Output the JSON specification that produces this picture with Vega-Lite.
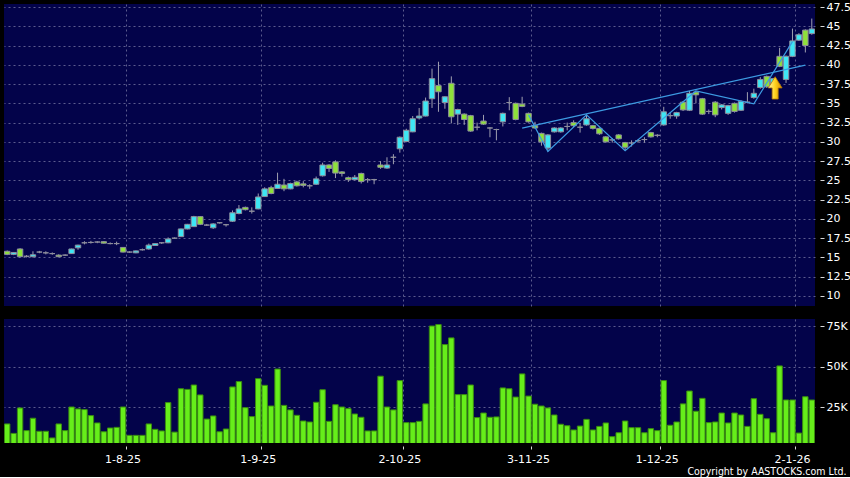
{
  "$schema": "https://vega.github.io/schema/vega-lite/v6.json",
  "background": "#000000",
  "padding": {"left": 4, "top": 1, "right": 0, "bottom": 0},
  "config": {
    "view": {"fill": "#03034a", "stroke": null},
    "concat": {"spacing": 13},
    "axis": {
      "labelFont": "DejaVu Sans",
      "labelFontSize": 11,
      "labelColor": "#ffffff",
      "tickColor": "#d8d8d8",
      "domain": false,
      "gridColor": "#5c5c8e",
      "gridDash": [2, 3],
      "gridWidth": 1,
      "labelOverlap": false
    }
  },
  "datasets": {
    "k": [
      {"d": "2025-07-08", "o": 15.8, "h": 15.9, "l": 15.3, "c": 15.4, "v": 14900},
      {"d": "2025-07-09", "o": 15.4, "h": 15.7, "l": 15.3, "c": 15.65, "v": 9100},
      {"d": "2025-07-10", "o": 16.1, "h": 16.2, "l": 15.0, "c": 15.1, "v": 24700},
      {"d": "2025-07-11", "o": 15.15, "h": 15.3, "l": 15.0, "c": 15.15, "v": 10800},
      {"d": "2025-07-14", "o": 15.1, "h": 15.8, "l": 15.0, "c": 15.35, "v": 18400},
      {"d": "2025-07-15", "o": 15.7, "h": 15.85, "l": 15.55, "c": 15.7, "v": 10400},
      {"d": "2025-07-16", "o": 15.6, "h": 15.8, "l": 15.4, "c": 15.6, "v": 10400},
      {"d": "2025-07-17", "o": 15.5, "h": 15.65, "l": 15.35, "c": 15.5, "v": 6300},
      {"d": "2025-07-18", "o": 15.3, "h": 15.4, "l": 15.05, "c": 15.1, "v": 14900},
      {"d": "2025-07-21", "o": 15.3, "h": 15.4, "l": 15.2, "c": 15.3, "v": 10800},
      {"d": "2025-07-22", "o": 15.5, "h": 16.15, "l": 15.45, "c": 16.1, "v": 25300},
      {"d": "2025-07-23", "o": 16.25, "h": 16.65, "l": 16.0, "c": 16.6, "v": 24100},
      {"d": "2025-07-24", "o": 16.9, "h": 17.1, "l": 16.7, "c": 16.9, "v": 23700},
      {"d": "2025-07-25", "o": 16.95, "h": 17.15, "l": 16.8, "c": 16.95, "v": 20000},
      {"d": "2025-07-28", "o": 17.0, "h": 17.1, "l": 16.85, "c": 17.0, "v": 15500},
      {"d": "2025-07-29", "o": 17.05, "h": 17.1, "l": 16.8, "c": 16.85, "v": 10100},
      {"d": "2025-07-30", "o": 16.8, "h": 16.95, "l": 16.7, "c": 16.8, "v": 12400},
      {"d": "2025-07-31", "o": 16.8, "h": 17.05, "l": 16.6, "c": 16.8, "v": 12800},
      {"d": "2025-08-01", "o": 16.3, "h": 16.35, "l": 15.65, "c": 15.7, "v": 25300},
      {"d": "2025-08-04", "o": 15.7, "h": 15.8, "l": 15.6, "c": 15.7, "v": 7900},
      {"d": "2025-08-05", "o": 15.6, "h": 15.9, "l": 15.55, "c": 15.85, "v": 7900},
      {"d": "2025-08-06", "o": 16.0, "h": 16.15, "l": 15.9, "c": 16.0, "v": 7900},
      {"d": "2025-08-07", "o": 16.1, "h": 16.8, "l": 16.0, "c": 16.6, "v": 14900},
      {"d": "2025-08-08", "o": 16.55, "h": 16.85, "l": 16.5, "c": 16.8, "v": 11600},
      {"d": "2025-08-11", "o": 16.9, "h": 17.0, "l": 16.75, "c": 16.9, "v": 10600},
      {"d": "2025-08-12", "o": 16.9, "h": 17.6, "l": 16.85, "c": 17.4, "v": 28000},
      {"d": "2025-08-13", "o": 17.5, "h": 17.6, "l": 17.4, "c": 17.5, "v": 9900},
      {"d": "2025-08-14", "o": 17.7, "h": 18.75, "l": 17.65, "c": 18.7, "v": 36500},
      {"d": "2025-08-15", "o": 18.7, "h": 19.35, "l": 18.65, "c": 19.3, "v": 36100},
      {"d": "2025-08-18", "o": 19.0, "h": 20.4, "l": 18.95, "c": 20.3, "v": 38800},
      {"d": "2025-08-19", "o": 20.3, "h": 20.35, "l": 19.2, "c": 19.3, "v": 32700},
      {"d": "2025-08-20", "o": 19.2, "h": 19.35, "l": 19.1, "c": 19.2, "v": 17900},
      {"d": "2025-08-21", "o": 18.85, "h": 19.45, "l": 18.7, "c": 19.35, "v": 19800},
      {"d": "2025-08-22", "o": 19.5, "h": 19.55, "l": 19.4, "c": 19.5, "v": 10100},
      {"d": "2025-08-25", "o": 19.25, "h": 19.35, "l": 19.0, "c": 19.25, "v": 11800},
      {"d": "2025-08-26", "o": 19.7, "h": 21.1, "l": 19.6, "c": 20.8, "v": 37600},
      {"d": "2025-08-27", "o": 20.7, "h": 21.8, "l": 20.6, "c": 21.3, "v": 40900},
      {"d": "2025-08-28", "o": 21.5, "h": 21.6, "l": 21.1, "c": 21.2, "v": 24900},
      {"d": "2025-08-29", "o": 21.0, "h": 21.5, "l": 20.7, "c": 21.0, "v": 19400},
      {"d": "2025-09-01", "o": 21.3, "h": 23.3, "l": 21.25, "c": 22.85, "v": 42700},
      {"d": "2025-09-02", "o": 22.9, "h": 24.1, "l": 22.85, "c": 23.9, "v": 38600},
      {"d": "2025-09-03", "o": 24.05, "h": 24.3, "l": 23.2, "c": 23.3, "v": 25900},
      {"d": "2025-09-04", "o": 23.95, "h": 26.0, "l": 23.9, "c": 24.5, "v": 48600},
      {"d": "2025-09-05", "o": 24.4, "h": 25.2, "l": 23.6, "c": 23.9, "v": 26300},
      {"d": "2025-09-08", "o": 23.9, "h": 24.7, "l": 23.85, "c": 24.6, "v": 23500},
      {"d": "2025-09-09", "o": 24.8, "h": 24.95, "l": 24.2, "c": 24.3, "v": 20200},
      {"d": "2025-09-10", "o": 24.55, "h": 24.9, "l": 24.1, "c": 24.35, "v": 16700},
      {"d": "2025-09-11", "o": 24.3, "h": 24.5, "l": 23.9, "c": 24.3, "v": 16100},
      {"d": "2025-09-12", "o": 24.5, "h": 25.5, "l": 24.4, "c": 25.2, "v": 28200},
      {"d": "2025-09-15", "o": 25.6, "h": 27.3, "l": 25.5, "c": 27.0, "v": 35900},
      {"d": "2025-09-16", "o": 27.0, "h": 27.1, "l": 26.1, "c": 26.55, "v": 16500},
      {"d": "2025-09-17", "o": 27.4, "h": 27.6, "l": 25.3, "c": 25.95, "v": 26700},
      {"d": "2025-09-18", "o": 26.1, "h": 26.2, "l": 25.5, "c": 25.9, "v": 25300},
      {"d": "2025-09-19", "o": 25.35, "h": 25.5, "l": 24.8, "c": 25.1, "v": 24300},
      {"d": "2025-09-22", "o": 25.1, "h": 25.7, "l": 25.0, "c": 25.4, "v": 21000},
      {"d": "2025-09-23", "o": 25.9, "h": 26.0, "l": 24.6, "c": 24.85, "v": 19000},
      {"d": "2025-09-24", "o": 25.1, "h": 25.3, "l": 24.7, "c": 25.1, "v": 10600},
      {"d": "2025-09-25", "o": 25.1, "h": 25.2, "l": 24.5, "c": 25.1, "v": 10600},
      {"d": "2025-09-26", "o": 27.0, "h": 27.5, "l": 26.5, "c": 26.7, "v": 44200},
      {"d": "2025-09-29", "o": 26.6, "h": 28.0, "l": 26.5, "c": 27.0, "v": 25300},
      {"d": "2025-09-30", "o": 28.0, "h": 28.4, "l": 27.1, "c": 28.0, "v": 23500},
      {"d": "2025-10-02", "o": 29.1, "h": 30.7, "l": 28.6, "c": 30.6, "v": 41500},
      {"d": "2025-10-03", "o": 30.05, "h": 31.7, "l": 29.95, "c": 31.5, "v": 15700},
      {"d": "2025-10-06", "o": 31.3, "h": 33.35, "l": 31.25, "c": 33.0, "v": 15700},
      {"d": "2025-10-08", "o": 33.1, "h": 34.4, "l": 32.9, "c": 33.35, "v": 16500},
      {"d": "2025-10-09", "o": 33.35, "h": 35.75, "l": 33.3, "c": 35.3, "v": 27200},
      {"d": "2025-10-10", "o": 35.6, "h": 39.5, "l": 34.4, "c": 38.2, "v": 75000},
      {"d": "2025-10-13", "o": 37.3, "h": 40.4, "l": 33.9, "c": 36.5, "v": 75900},
      {"d": "2025-10-14", "o": 35.1, "h": 35.9, "l": 34.3, "c": 35.85, "v": 63600},
      {"d": "2025-10-15", "o": 37.6, "h": 38.5, "l": 32.4, "c": 33.25, "v": 67700},
      {"d": "2025-10-16", "o": 33.6, "h": 34.3, "l": 32.2, "c": 34.2, "v": 32900},
      {"d": "2025-10-17", "o": 33.6, "h": 33.7, "l": 32.2, "c": 32.9, "v": 32900},
      {"d": "2025-10-20", "o": 33.4, "h": 33.5, "l": 31.3, "c": 31.4, "v": 38800},
      {"d": "2025-10-21", "o": 31.9, "h": 32.5, "l": 31.5, "c": 31.9, "v": 18800},
      {"d": "2025-10-22", "o": 32.7, "h": 33.5, "l": 32.2, "c": 32.3, "v": 21600},
      {"d": "2025-10-23", "o": 31.8, "h": 31.9, "l": 30.6, "c": 31.8, "v": 19000},
      {"d": "2025-10-24", "o": 31.6, "h": 31.7, "l": 30.2, "c": 31.6, "v": 19200},
      {"d": "2025-10-27", "o": 32.6, "h": 33.8, "l": 32.0, "c": 33.7, "v": 37000},
      {"d": "2025-10-28", "o": 35.1, "h": 35.8, "l": 34.1, "c": 35.1, "v": 36500},
      {"d": "2025-10-30", "o": 35.0, "h": 35.1, "l": 32.8, "c": 32.9, "v": 31400},
      {"d": "2025-10-31", "o": 34.9, "h": 35.85, "l": 34.5, "c": 34.6, "v": 45600},
      {"d": "2025-11-03", "o": 33.7, "h": 33.8, "l": 32.5, "c": 32.6, "v": 32000},
      {"d": "2025-11-04", "o": 32.1, "h": 32.6, "l": 31.7, "c": 31.8, "v": 27000},
      {"d": "2025-11-05", "o": 31.1, "h": 31.2, "l": 29.5, "c": 30.0, "v": 25900},
      {"d": "2025-11-06", "o": 29.2, "h": 31.0, "l": 28.75, "c": 30.9, "v": 24700},
      {"d": "2025-11-07", "o": 31.3, "h": 31.9, "l": 31.2, "c": 31.8, "v": 20400},
      {"d": "2025-11-10", "o": 31.3, "h": 31.9, "l": 31.2, "c": 31.8, "v": 14700},
      {"d": "2025-11-11", "o": 32.0, "h": 32.5, "l": 31.5, "c": 32.0, "v": 13800},
      {"d": "2025-11-12", "o": 32.5, "h": 32.8, "l": 31.9, "c": 32.1, "v": 11200},
      {"d": "2025-11-13", "o": 31.9, "h": 32.45, "l": 31.2, "c": 31.9, "v": 13600},
      {"d": "2025-11-14", "o": 32.2, "h": 33.55, "l": 32.1, "c": 33.0, "v": 17700},
      {"d": "2025-11-17", "o": 32.1, "h": 32.2, "l": 31.6, "c": 31.75, "v": 11200},
      {"d": "2025-11-18", "o": 31.75, "h": 31.85, "l": 30.9, "c": 31.05, "v": 13400},
      {"d": "2025-11-19", "o": 30.65, "h": 30.75, "l": 29.9, "c": 30.0, "v": 15500},
      {"d": "2025-11-20", "o": 30.25, "h": 30.5, "l": 29.9, "c": 30.25, "v": 7100},
      {"d": "2025-11-21", "o": 30.9, "h": 31.0, "l": 30.3, "c": 30.4, "v": 9500},
      {"d": "2025-11-24", "o": 29.9, "h": 30.0, "l": 28.85, "c": 29.3, "v": 16700},
      {"d": "2025-11-25", "o": 29.85, "h": 30.2, "l": 29.4, "c": 29.85, "v": 12600},
      {"d": "2025-11-26", "o": 30.15, "h": 30.3, "l": 29.9, "c": 30.15, "v": 12600},
      {"d": "2025-11-27", "o": 30.3, "h": 30.6, "l": 29.9, "c": 30.3, "v": 9500},
      {"d": "2025-11-28", "o": 31.2, "h": 31.3, "l": 30.55, "c": 30.65, "v": 12000},
      {"d": "2025-12-01", "o": 30.85, "h": 31.0, "l": 30.6, "c": 30.85, "v": 10800},
      {"d": "2025-12-02", "o": 32.2, "h": 34.55, "l": 32.1, "c": 33.9, "v": 41500},
      {"d": "2025-12-03", "o": 33.4, "h": 33.8, "l": 33.0, "c": 33.4, "v": 14100},
      {"d": "2025-12-04", "o": 33.35, "h": 33.9, "l": 33.0, "c": 33.8, "v": 16100},
      {"d": "2025-12-05", "o": 35.15, "h": 35.3, "l": 34.0, "c": 34.15, "v": 27200},
      {"d": "2025-12-08", "o": 34.1, "h": 36.6, "l": 34.0, "c": 36.3, "v": 35100},
      {"d": "2025-12-09", "o": 36.45, "h": 36.6, "l": 35.0, "c": 36.1, "v": 22700},
      {"d": "2025-12-10", "o": 35.6, "h": 35.7, "l": 33.5, "c": 33.6, "v": 30600},
      {"d": "2025-12-11", "o": 33.95, "h": 34.2, "l": 33.6, "c": 33.95, "v": 15700},
      {"d": "2025-12-12", "o": 35.15, "h": 35.3, "l": 33.2, "c": 33.5, "v": 16100},
      {"d": "2025-12-15", "o": 34.45, "h": 34.9, "l": 34.2, "c": 34.8, "v": 21600},
      {"d": "2025-12-16", "o": 33.7, "h": 34.8, "l": 33.5, "c": 34.7, "v": 15500},
      {"d": "2025-12-17", "o": 35.0, "h": 35.1, "l": 33.8, "c": 33.95, "v": 21600},
      {"d": "2025-12-18", "o": 34.1, "h": 35.4, "l": 34.0, "c": 35.25, "v": 20400},
      {"d": "2025-12-19", "o": 35.15, "h": 36.45, "l": 35.0, "c": 35.15, "v": 13400},
      {"d": "2025-12-22", "o": 35.75, "h": 36.9, "l": 35.6, "c": 36.3, "v": 30400},
      {"d": "2025-12-23", "o": 37.05, "h": 38.4, "l": 36.9, "c": 38.1, "v": 20800},
      {"d": "2025-12-24", "o": 38.5, "h": 38.6, "l": 37.0, "c": 37.15, "v": 18100},
      {"d": "2025-12-29", "o": 37.5, "h": 38.3, "l": 37.3, "c": 38.2, "v": 9500},
      {"d": "2025-12-30", "o": 41.1, "h": 42.2, "l": 39.7, "c": 39.8, "v": 50500},
      {"d": "2025-12-31", "o": 38.1, "h": 41.2, "l": 37.65, "c": 41.1, "v": 29600},
      {"d": "2026-01-02", "o": 41.1, "h": 44.7, "l": 41.0, "c": 43.1, "v": 29600},
      {"d": "2026-01-05", "o": 43.2, "h": 44.1, "l": 43.1, "c": 43.9, "v": 9300},
      {"d": "2026-01-06", "o": 44.5, "h": 44.6, "l": 41.6, "c": 42.5, "v": 31600},
      {"d": "2026-01-07", "o": 44.05, "h": 46.0, "l": 43.9, "c": 44.65, "v": 29600}
    ],
    "res": [
      {"d": "2025-10-31", "p": 31.78},
      {"d": "2026-01-06", "p": 39.95}
    ],
    "zz": [
      {"d": "2025-11-03", "p": 33.5},
      {"d": "2025-11-06", "p": 28.75},
      {"d": "2025-11-14", "p": 33.5},
      {"d": "2025-11-24", "p": 28.85},
      {"d": "2025-12-09", "p": 36.6},
      {"d": "2025-12-22", "p": 34.95},
      {"d": "2026-01-02", "p": 43.0}
    ],
    "arr": [
      {"d": "2025-12-29", "p": 37.0}
    ]
  },
  "vconcat": [
    {
      "width": 811,
      "height": 302,
      "data": {"name": "k"},
      "resolve": {"axis": {"y": "independent"}},
      "encoding": {
        "x": {
          "field": "d",
          "type": "ordinal",
          "title": null,
          "scale": {"paddingInner": 0, "paddingOuter": 0},
          "axis": {
            "labels": false,
            "ticks": false,
            "domain": false,
            "grid": true,
            "bandPosition": 1,
            "values": ["2025-08-01", "2025-09-01", "2025-10-02", "2025-11-03", "2025-12-01", "2026-01-02"]
          }
        }
      },
      "layer": [
        {
          "mark": {"type": "rule", "color": "#a0a0b0", "strokeWidth": 1},
          "encoding": {
            "y": {
              "field": "l",
              "type": "quantitative",
              "title": null,
              "scale": {"domain": [8.7, 47.89], "nice": false, "zero": false},
              "axis": {
                "orient": "right",
                "values": [10, 12.5, 15, 17.5, 20, 22.5, 25, 27.5, 30, 32.5, 35, 37.5, 40, 42.5, 45, 47.5],
                "format": ".3~g",
                "offset": 5,
                "tickSize": 4,
                "labelPadding": 2,
                "labelOverlap": false,
                "grid": true
              }
            },
            "y2": {"field": "h"}
          }
        },
        {
          "mark": {"type": "bar", "width": {"band": 0.84}, "stroke": "#8e8e9c", "strokeWidth": 1},
          "encoding": {
            "y": {"field": "o", "type": "quantitative", "title": null, "axis": null},
            "y2": {"field": "c"},
            "fill": {
              "condition": [
                {"test": "datum.c > datum.o", "value": "#3ee6f4"},
                {"test": "datum.c < datum.o", "value": "#8ee23a"}
              ],
              "value": "#8e8e9c"
            }
          }
        },
        {
          "data": {"name": "res"},
          "mark": {"type": "line", "color": "#3d9be2", "strokeWidth": 1.2},
          "encoding": {"y": {"field": "p", "type": "quantitative", "title": null, "axis": null}}
        },
        {
          "data": {"name": "zz"},
          "mark": {"type": "line", "color": "#3d9be2", "strokeWidth": 1.2},
          "encoding": {"y": {"field": "p", "type": "quantitative", "title": null, "axis": null}}
        },
        {
          "data": {"name": "arr"},
          "mark": {
            "type": "point",
            "shape": "M0,-1L0.62,0L0.27,0L0.27,1L-0.27,1L-0.27,0L-0.62,0Z",
            "size": 497,
            "filled": true,
            "opacity": 1,
            "xOffset": 2,
            "fill": {
              "gradient": "linear",
              "x1": 0, "y1": 0, "x2": 1, "y2": 0,
              "stops": [
                {"offset": 0, "color": "#fff6a8"},
                {"offset": 0.5, "color": "#ffd21c"},
                {"offset": 1, "color": "#d68a00"}
              ]
            },
            "stroke": "#b87a00",
            "strokeWidth": 0.8
          },
          "encoding": {"y": {"field": "p", "type": "quantitative", "title": null, "axis": null}}
        }
      ]
    },
    {
      "width": 811,
      "height": 124,
      "data": {"name": "k"},
      "mark": {"type": "bar", "width": {"band": 0.84}, "fill": "#66ee1a", "stroke": "#3a8c10", "strokeWidth": 1, "clip": true},
      "encoding": {
        "x": {
          "field": "d",
          "type": "ordinal",
          "scale": {"paddingInner": 0, "paddingOuter": 0},
          "axis": {
            "values": ["2025-08-01", "2025-09-01", "2025-10-02", "2025-11-03", "2025-12-01", "2026-01-02"],
            "labelExpr": "utcFormat(toDate(datum.value), '%-d-%-m-%y')",
            "labelAngle": 0,
            "bandPosition": 1,
            "offset": 3,
            "tickSize": 3,
            "labelPadding": 4,
            "grid": true,
            "title": "Copyright by AASTOCKS.com Ltd.",
            "titleFont": "DejaVu Sans Condensed",
            "titleFontSize": 10.5,
            "titleFontWeight": "normal",
            "titleColor": "#ffffff",
            "titleAlign": "right",
            "titleBaseline": "alphabetic",
            "titleX": 842,
            "titleY": 28
          }
        },
        "y": {
          "field": "v",
          "type": "quantitative",
          "title": null,
          "scale": {"domain": [3200, 79300], "nice": false, "zero": false},
          "axis": {
            "orient": "right",
            "values": [25000, 50000, 75000],
            "labelExpr": "(datum.value / 1000) + 'K'",
            "offset": 5,
            "tickSize": 4,
            "labelPadding": 2,
            "labelOverlap": false,
            "grid": true
          }
        }
      }
    }
  ]
}
